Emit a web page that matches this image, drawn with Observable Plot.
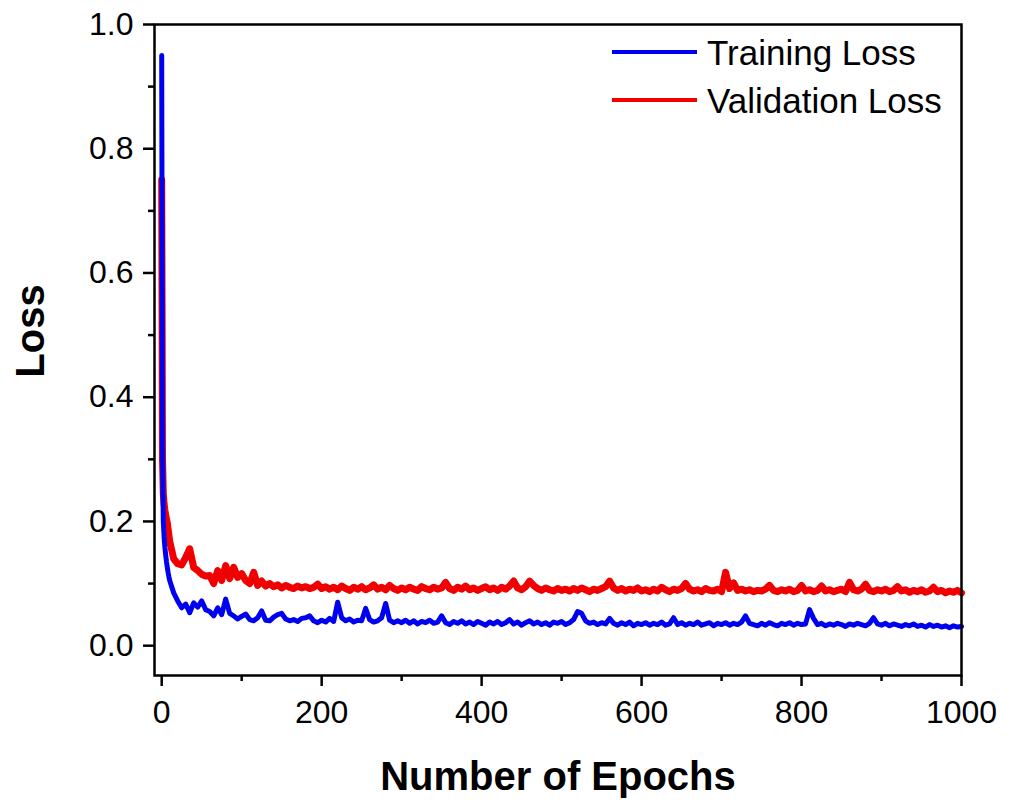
<!DOCTYPE html>
<html>
<head>
<meta charset="utf-8">
<script src="https://cdn.jsdelivr.net/npm/d3@7"></script>
<script src="https://cdn.jsdelivr.net/npm/@observablehq/plot@0.6"></script>
<style>
  html, body { margin: 0; padding: 0; background: #fff; }
  #chart svg { display: block; }
</style>
</head>
<body>
<div id="chart"></div>
<script>
const epochs = [
  0, 1, 2, 3, 4, 5, 6, 7, 8, 9,
  10, 15, 20, 25, 30, 35, 40, 45, 50, 55,
  60, 65, 70, 75, 80, 85, 90, 95, 100, 105,
  110, 115, 120, 125, 130, 135, 140, 145, 150, 155,
  160, 165, 170, 175, 180, 185, 190, 195, 200, 205,
  210, 215, 220, 225, 230, 235, 240, 245, 250, 255,
  260, 265, 270, 275, 280, 285, 290, 295, 300, 305,
  310, 315, 320, 325, 330, 335, 340, 345, 350, 355,
  360, 365, 370, 375, 380, 385, 390, 395, 400, 405,
  410, 415, 420, 425, 430, 435, 440, 445, 450, 455,
  460, 465, 470, 475, 480, 485, 490, 495, 500, 505,
  510, 515, 520, 525, 530, 535, 540, 545, 550, 555,
  560, 565, 570, 575, 580, 585, 590, 595, 600, 605,
  610, 615, 620, 625, 630, 635, 640, 645, 650, 655,
  660, 665, 670, 675, 680, 685, 690, 695, 700, 705,
  710, 715, 720, 725, 730, 735, 740, 745, 750, 755,
  760, 765, 770, 775, 780, 785, 790, 795, 800, 805,
  810, 815, 820, 825, 830, 835, 840, 845, 850, 855,
  860, 865, 870, 875, 880, 885, 890, 895, 900, 905,
  910, 915, 920, 925, 930, 935, 940, 945, 950, 955,
  960, 965, 970, 975, 980, 985, 990, 995, 1000
];

const trainingLoss = [
  0.95, 0.32, 0.20, 0.175, 0.158, 0.146, 0.135, 0.126, 0.118, 0.111,
  0.105, 0.085, 0.072, 0.061, 0.067, 0.053, 0.069, 0.062, 0.072, 0.058,
  0.055, 0.048, 0.061, 0.050, 0.075, 0.052, 0.048, 0.043, 0.047, 0.051,
  0.042, 0.040, 0.045, 0.056, 0.041, 0.040, 0.046, 0.050, 0.052, 0.043,
  0.040, 0.042, 0.039, 0.044, 0.045, 0.048, 0.040, 0.037, 0.041, 0.038,
  0.044, 0.039, 0.070, 0.045, 0.040, 0.043, 0.038, 0.041, 0.040, 0.060,
  0.042, 0.038, 0.040, 0.045, 0.068, 0.041, 0.037, 0.040, 0.037, 0.041,
  0.036, 0.040, 0.035, 0.039, 0.037, 0.041, 0.036, 0.038, 0.048, 0.037,
  0.034, 0.039, 0.036, 0.040, 0.035, 0.038, 0.034, 0.039, 0.036, 0.033,
  0.038, 0.035, 0.039, 0.034, 0.037, 0.042, 0.035, 0.038, 0.033, 0.037,
  0.040, 0.035, 0.038, 0.034, 0.037, 0.033, 0.038, 0.036, 0.039, 0.034,
  0.037, 0.042, 0.055, 0.052, 0.040, 0.036, 0.038, 0.034, 0.037, 0.035,
  0.044, 0.036, 0.033, 0.037, 0.034, 0.038, 0.032, 0.036, 0.034, 0.037,
  0.033, 0.036, 0.034, 0.038, 0.033, 0.035, 0.045, 0.034, 0.037, 0.033,
  0.036, 0.034, 0.038, 0.033, 0.035, 0.037, 0.032, 0.036, 0.034, 0.037,
  0.033, 0.036, 0.034, 0.038, 0.048, 0.036, 0.034, 0.032, 0.036, 0.033,
  0.037, 0.034, 0.032, 0.036, 0.034, 0.037, 0.033, 0.036, 0.034, 0.035,
  0.058, 0.044, 0.034, 0.036, 0.032, 0.035, 0.033, 0.036, 0.034, 0.031,
  0.035, 0.033, 0.036, 0.034, 0.032, 0.036, 0.045, 0.035, 0.033, 0.036,
  0.032, 0.035, 0.033, 0.031, 0.034, 0.032, 0.035, 0.031, 0.033, 0.030,
  0.034, 0.031, 0.033, 0.030, 0.032, 0.029, 0.032, 0.030, 0.031
];

const validationLoss = [
  0.75, 0.30, 0.245, 0.228, 0.218, 0.21, 0.204, 0.198, 0.188, 0.178,
  0.168, 0.140, 0.132, 0.130, 0.142, 0.156, 0.126, 0.121, 0.115, 0.112,
  0.113, 0.100, 0.121, 0.105, 0.129, 0.108, 0.126, 0.110, 0.116, 0.105,
  0.100, 0.118, 0.097, 0.104, 0.096, 0.100, 0.095, 0.098, 0.093, 0.097,
  0.094, 0.092, 0.096, 0.093, 0.095, 0.092, 0.094, 0.099, 0.092, 0.095,
  0.091, 0.094, 0.090, 0.096, 0.092, 0.089, 0.094, 0.091, 0.095, 0.090,
  0.093, 0.098, 0.091, 0.094, 0.090, 0.097, 0.092, 0.089, 0.093, 0.090,
  0.094, 0.091, 0.089, 0.095, 0.092, 0.090, 0.094, 0.091, 0.093, 0.102,
  0.092, 0.089, 0.094, 0.091, 0.096, 0.090, 0.093, 0.089, 0.092, 0.095,
  0.090, 0.093, 0.089, 0.094, 0.091, 0.096, 0.104, 0.093, 0.090, 0.095,
  0.104, 0.097, 0.092, 0.089, 0.093, 0.090, 0.088, 0.092, 0.089, 0.091,
  0.088, 0.092, 0.089, 0.093, 0.090, 0.087, 0.091, 0.089, 0.092, 0.095,
  0.104, 0.093, 0.089, 0.092, 0.088, 0.091, 0.089, 0.093, 0.088, 0.090,
  0.087, 0.091, 0.088, 0.094, 0.090, 0.087, 0.091, 0.089, 0.092, 0.100,
  0.091, 0.088, 0.090, 0.087, 0.092, 0.089, 0.088, 0.091, 0.087, 0.118,
  0.092, 0.101, 0.089, 0.091, 0.088, 0.090, 0.087, 0.089, 0.088, 0.091,
  0.097, 0.089, 0.087, 0.090, 0.088, 0.091, 0.087, 0.089, 0.097, 0.088,
  0.090, 0.087, 0.089, 0.096, 0.088, 0.090, 0.087, 0.089, 0.091, 0.087,
  0.102, 0.090, 0.088, 0.091, 0.099, 0.089, 0.087, 0.090, 0.088, 0.091,
  0.087, 0.089, 0.095, 0.088, 0.090, 0.086, 0.089, 0.087, 0.090, 0.086,
  0.088, 0.094, 0.087, 0.089, 0.085, 0.088, 0.086, 0.089, 0.085
];

const seriesNames = ["Training Loss", "Validation Loss"];
const seriesColors = ["#0000f0", "#f00000"];
const seriesWidths = [5, 7];
const xMajorTicks = [0, 200, 400, 600, 800, 1000];
const xMinorTicks = [100, 300, 500, 700, 900];
const yMajorTicks = [0, 0.2, 0.4, 0.6, 0.8, 1.0];
const yMinorTicks = [0.1, 0.3, 0.5, 0.7, 0.9];
const xTitle = "Number of Epochs";
const yTitle = "Loss";

const trainingRows = epochs.map((e, i) => ({epoch: e, loss: trainingLoss[i], series: seriesNames[0]}));
const validationRows = epochs.map((e, i) => ({epoch: e, loss: validationLoss[i], series: seriesNames[1]}));

const FONT = "'Liberation Sans', Arial, Helvetica, sans-serif";

const chart = Plot.plot({
  width: 1009,
  height: 802,
  marginLeft: 154,
  marginRight: 48,
  marginTop: 24,
  marginBottom: 127,
  style: {fontFamily: FONT, color: "black", background: "white", overflow: "visible"},
  x: {domain: [-9, 1000]},
  y: {domain: [-0.048, 1.0]},
  color: {domain: seriesNames, range: seriesColors},
  marks: [
    Plot.line(validationRows, {x: "epoch", y: "loss", stroke: "series", strokeWidth: seriesWidths[1], strokeLinejoin: "round", strokeLinecap: "round"}),
    Plot.line(trainingRows, {x: "epoch", y: "loss", stroke: "series", strokeWidth: seriesWidths[0], strokeLinejoin: "round", strokeLinecap: "round"}),
    Plot.frame({stroke: "black", strokeWidth: 2.5}),
    Plot.axisX({ticks: xMajorTicks, tickSize: 11, tickPadding: 14, strokeWidth: 2.5, fontSize: 32, label: null, tickFormat: d => String(d)}),
    Plot.axisX({ticks: xMinorTicks, tickSize: 6, strokeWidth: 2.5, label: null, tickFormat: () => ""}),
    Plot.axisY({ticks: yMajorTicks, tickSize: 11, tickPadding: 10, strokeWidth: 2.5, fontSize: 32, label: null, tickFormat: d3.format(".1f")}),
    Plot.axisY({ticks: yMinorTicks, tickSize: 6, strokeWidth: 2.5, label: null, tickFormat: () => ""})
  ]
});

const svg = d3.select(chart);

// Axis titles
svg.append("text")
  .attr("x", 558).attr("y", 790)
  .attr("text-anchor", "middle")
  .attr("font-family", FONT).attr("font-weight", "bold").attr("font-size", 40)
  .attr("fill", "black")
  .text(xTitle);

svg.append("text")
  .attr("transform", "translate(44,331) rotate(-90)")
  .attr("text-anchor", "middle")
  .attr("font-family", FONT).attr("font-weight", "bold").attr("font-size", 40)
  .attr("fill", "black")
  .text(yTitle);

// Legend
const legend = svg.append("g").attr("text-anchor", "start");
seriesNames.forEach((name, i) => {
  const y = 52 + i * 48;
  legend.append("line")
    .attr("x1", 612).attr("x2", 697).attr("y1", y).attr("y2", y)
    .attr("stroke", seriesColors[i]).attr("stroke-width", 4);
  legend.append("text")
    .attr("x", 707).attr("y", y + 13)
    .attr("text-anchor", "start")
    .attr("font-family", FONT).attr("font-size", 35)
    .attr("fill", "black")
    .text(name);
});

document.getElementById("chart").appendChild(chart);
</script>
</body>
</html>
